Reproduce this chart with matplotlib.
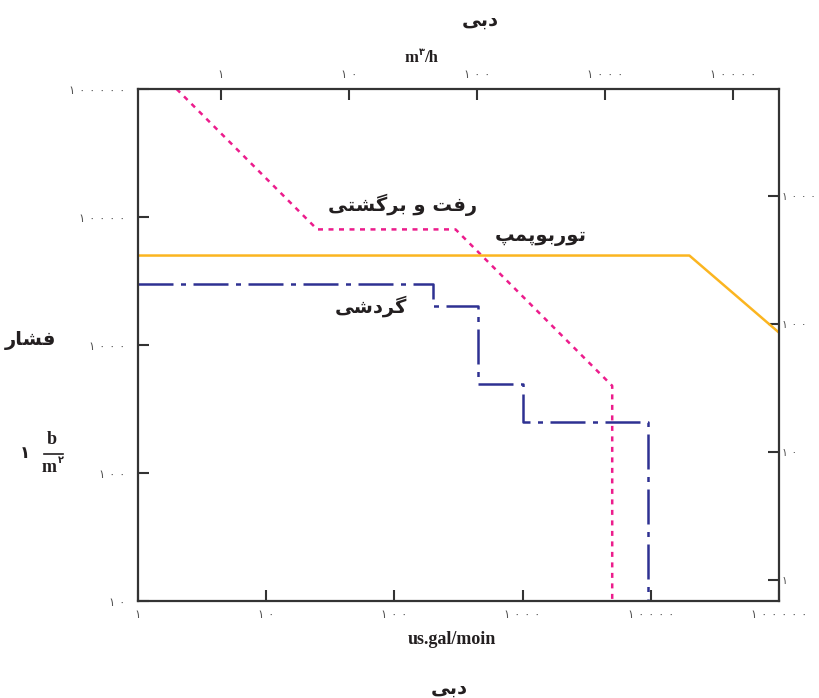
import matplotlib
matplotlib.use("Agg")
import matplotlib.pyplot as plt
from matplotlib.lines import Line2D
from matplotlib.ticker import FixedLocator, NullLocator, FuncFormatter

# flow in us gal/min, pressure on the left scale
recip_flow = [2, 25, 300, 5000, 5000]
recip_pres = [100000, 8000, 8000, 480, 10]
turbo_flow = [1, 20000, 100000]
turbo_pres = [5000, 5000, 1250]
rotary_flow = [1, 200, 200, 450, 450, 1000, 1000, 9500, 9500]
rotary_pres = [3000, 3000, 2000, 2000, 500, 500, 250, 250, 10]

bottom_ticks = [1, 10, 100, 1000, 10000, 100000]
left_ticks = [10, 100, 1000, 10000, 100000]
top_ticks = [1, 10, 100, 1000, 10000]
right_ticks = [1, 10, 100, 1000]

GPM_PER_M3H = 4.403
PSI_PER_BAR = 14.5

# matplotlib does no arabic shaping, so pick presentation forms by hand
FORMS = {  # iso, fin, ini, med
    'ب': ('\uFE8F', '\uFE90', '\uFE91', '\uFE92'),
    'ت': ('\uFE95', '\uFE96', '\uFE97', '\uFE98'),
    'پ': ('\uFB56', '\uFB57', '\uFB58', '\uFB59'),
    'م': ('\uFEE1', '\uFEE2', '\uFEE3', '\uFEE4'),
    'ف': ('\uFED1', '\uFED2', '\uFED3', '\uFED4'),
    'ش': ('\uFEB5', '\uFEB6', '\uFEB7', '\uFEB8'),
    'گ': ('\uFB92', '\uFB93', '\uFB94', '\uFB95'),
    'ی': ('\uFBFC', '\uFBFD', '\uFBFE', '\uFBFF'),
    'ر': ('\uFEAD', '\uFEAE'),
    'و': ('\uFEED', '\uFEEE'),
    'ا': ('\uFE8D', '\uFE8E'),
    'د': ('\uFEA9', '\uFEAA'),
}


def fa(s):
    out = []
    for i, ch in enumerate(s):
        f = FORMS.get(ch)
        if f is None:
            out.append(ch)
            continue
        prev = s[i - 1] if i > 0 else ' '
        nxt = s[i + 1] if i + 1 < len(s) else ' '
        join_prev = prev in FORMS and len(FORMS[prev]) == 4
        join_next = len(f) == 4 and nxt in FORMS
        out.append(f[(1 if join_prev else 0) + (2 if join_next else 0)])
    return ''.join(reversed(out))


def fa_num(n, pos=None):
    digits = str(int(round(n))).translate(str.maketrans('0123456789', '۰۱۲۳۴۵۶۷۸۹'))
    return ' '.join(digits)


W, H = 819, 698
fig = plt.figure(figsize=(W / 100, H / 100), dpi=100)
ax = fig.add_axes([138 / W, 97 / H, 641 / W, 512 / H])


def px(x, y):
    return x / W, 1 - y / H


def ax_px(x, y):
    return ax.transAxes.inverted().transform(fig.transFigure.transform(px(x, y)))


ax.plot(recip_flow, recip_pres, color='#EC1C8C', lw=1.8, ls=(0, (2, 2.2)))
ax.plot(turbo_flow, turbo_pres, color='#FBB520', lw=1.8)
ax.plot(rotary_flow, rotary_pres, color='#2E3192', lw=1.8, ls=(0, (14, 3, 2, 3)))

ax.set_xscale('log')
ax.set_yscale('log')
ax.set_xlim(1, 100000)
ax.set_ylim(10, 100000)

tick_color = '#555555'
tick_size = 8.5
ax.xaxis.set_major_locator(FixedLocator(bottom_ticks))
ax.yaxis.set_major_locator(FixedLocator(left_ticks))
ax.xaxis.set_minor_locator(NullLocator())
ax.yaxis.set_minor_locator(NullLocator())
ax.xaxis.set_major_formatter(FuncFormatter(fa_num))
ax.yaxis.set_major_formatter(FuncFormatter(fa_num))
ax.tick_params(axis='x', direction='in', length=8, width=1.5, pad=5, labelsize=tick_size,
               labelcolor=tick_color, color='#333333')
ax.tick_params(axis='y', direction='in', length=8, width=1.5, pad=9, labelsize=tick_size,
               labelcolor=tick_color, color='#333333')

for spine in ax.spines.values():
    spine.set_color('#333333')
    spine.set_linewidth(1.6)

top = ax.secondary_xaxis('top', functions=(lambda x: x / GPM_PER_M3H, lambda x: x * GPM_PER_M3H))
top.xaxis.set_major_locator(FixedLocator(top_ticks))
top.xaxis.set_minor_locator(NullLocator())
top.xaxis.set_major_formatter(FuncFormatter(fa_num))
top.tick_params(direction='in', length=8, width=1.5, pad=6, labelsize=tick_size,
                labelcolor=tick_color, color='#333333')
top.spines['top'].set_visible(False)

right = ax.secondary_yaxis('right', functions=(lambda y: y / PSI_PER_BAR, lambda y: y * PSI_PER_BAR))
right.yaxis.set_major_locator(FixedLocator(right_ticks))
right.yaxis.set_minor_locator(NullLocator())
right.yaxis.set_major_formatter(FuncFormatter(fa_num))
right.tick_params(direction='in', length=8, width=1.5, pad=2, labelsize=7.8,
                  labelcolor=tick_color, color='#333333')
right.spines['right'].set_visible(False)

arab = dict(family='DejaVu Sans', weight='bold', color='#231F20', ha='center', va='center')
latin = dict(family='Liberation Serif', weight='bold', color='#231F20', va='center')

# curve names
ax.text(*ax_px(403, 205), fa('رفت و برگشتی'), transform=ax.transAxes, fontsize=14, **arab)
ax.text(*ax_px(541, 236), fa('توربوپمپ'), transform=ax.transAxes, fontsize=14, **arab)
ax.text(*ax_px(371, 306), fa('گردشی'), transform=ax.transAxes, fontsize=14, **arab)

# axis titles
fig.text(*px(480, 20), fa('دبی'), fontsize=14, **arab)
fig.text(*px(449, 688), fa('دبی'), fontsize=14, **arab)
fig.text(*px(452, 640), 'us.gal/moin', fontsize=13, ha='center', **latin)
fig.text(*px(418, 58), 'm', fontsize=12, ha='right', **latin)
fig.text(*px(419, 52), '۳', fontsize=7, ha='left', family='DejaVu Sans', weight='bold',
         color='#231F20', va='center')
fig.text(*px(424, 58), '/h', fontsize=12, ha='left', **latin)

fig.text(*px(30, 340), fa('فشار'), fontsize=14, **arab)
fig.text(*px(25, 453), '۱', fontsize=12, ha='center', family='DejaVu Sans', weight='bold',
         color='#231F20', va='center')
fig.text(*px(52, 440), 'b', fontsize=13, ha='center', **latin)
fig.add_artist(Line2D([44 / W, 63 / W], [1 - 454 / H, 1 - 454 / H], color='#231F20', lw=1.2))
fig.text(*px(49, 467), 'm', fontsize=13, ha='center', **latin)
fig.text(*px(58, 460), '۲', fontsize=7, ha='left', family='DejaVu Sans', weight='bold',
         color='#231F20', va='center')

fig.savefig('out.png', dpi=100)
